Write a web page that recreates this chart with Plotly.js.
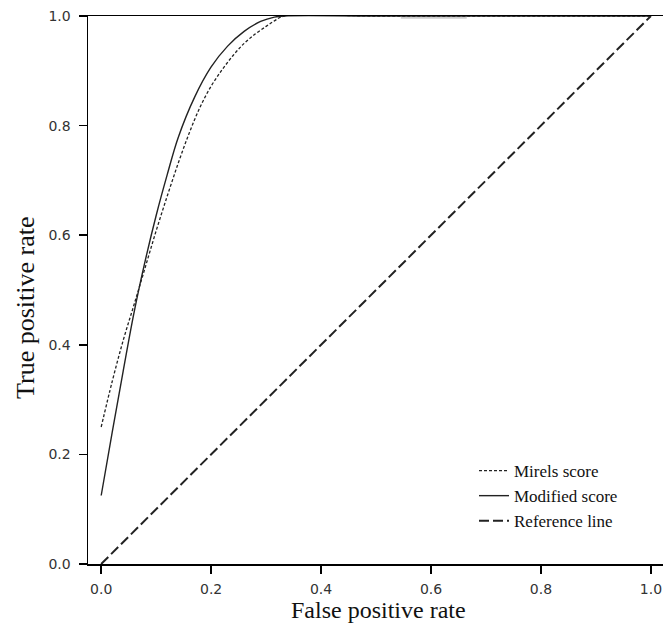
<!DOCTYPE html>
<html>
<head>
<meta charset="utf-8">
<script src="https://cdn.plot.ly/plotly-3.0.1.min.js"></script>
<style>html,body{margin:0;padding:0;background:#fff;}#chart{width:663px;height:629px;}</style>
</head>
<body>
<div id="chart"></div>
<script>
// Mirels score ROC (dotted)
const mirelsFpr = [0, 0.02, 0.04, 0.06, 0.08, 0.10, 0.12, 0.14, 0.16, 0.18, 0.20, 0.22, 0.24, 0.26, 0.28, 0.30, 0.315, 0.333, 0.5, 1.0];
const mirelsTpr = [0.25, 0.333, 0.408, 0.474, 0.541, 0.608, 0.671, 0.731, 0.786, 0.834, 0.872, 0.902, 0.928, 0.95, 0.967, 0.981, 0.991, 1.0, 1.0, 1.0];
// Modified score ROC (solid)
const modFpr = [0, 0.02, 0.04, 0.06, 0.08, 0.10, 0.12, 0.14, 0.17, 0.20, 0.23, 0.26, 0.29, 0.315, 0.333, 0.5, 1.0];
const modTpr = [0.125, 0.24, 0.352, 0.46, 0.553, 0.636, 0.71, 0.778, 0.852, 0.907, 0.945, 0.972, 0.99, 0.998, 1.0, 1.0, 1.0];
// Reference line
const refX = [0, 1];
const refY = [0, 1];
// faint segment near the top
const faintX = [0.545, 0.665];
const faintY = [0.997, 0.997];

const tickVals = [0, 0.2, 0.4, 0.6, 0.8, 1.0];
const tickText = ['0.0', '0.2', '0.4', '0.6', '0.8', '1.0'];
const xTitle = 'False positive rate';
const yTitle = 'True positive rate';

const traces = [
  {x: faintX, y: faintY, mode: 'lines', line: {color: '#cfcfcf', width: 2}, showlegend: false, hoverinfo: 'skip'},
  {x: mirelsFpr, y: mirelsTpr, mode: 'lines', name: 'Mirels score', line: {color: '#222', width: 1.3, dash: '3px,2px', shape: 'spline', smoothing: 1}},
  {x: modFpr, y: modTpr, mode: 'lines', name: 'Modified score', line: {color: '#222', width: 1.4, shape: 'spline', smoothing: 1}},
  {x: refX, y: refY, mode: 'lines', name: 'Reference line', line: {color: '#222', width: 2, dash: '10px,4px'}}
];

const axisFont = {family: 'DejaVu Sans', size: 14, color: '#333'};
const titleFont = {family: 'Liberation Serif', size: 24, color: '#111'};

const layout = {
  width: 663, height: 629,
  margin: {l: 88, r: 0, t: 16, b: 65},
  paper_bgcolor: '#fff', plot_bgcolor: '#fff',
  showlegend: true,
  legend: {xref: 'paper', font: {family: 'Liberation Serif', size: 17, color: '#111'},
           bgcolor: 'rgba(0,0,0,0)', itemwidth: 30, xanchor: 'left', yanchor: 'top'},
  xaxis: {
    range: [-0.024, 1.022], tickvals: tickVals, ticktext: tickText,
    showgrid: false, zeroline: false, showline: true, linecolor: '#000', linewidth: 1.5, mirror: true,
    ticks: 'outside', ticklen: 8, tickcolor: '#000', tickwidth: 1.5, tickfont: axisFont, ticklabelstandoff: 4
  },
  yaxis: {
    range: [0, 1], tickvals: tickVals, ticktext: tickText,
    showgrid: false, zeroline: false, showline: true, linecolor: '#000', linewidth: 1.5,
    ticks: 'outside', ticklen: 8, tickcolor: '#000', tickwidth: 1.5, tickfont: axisFont, ticklabelstandoff: 5
  },
  annotations: [
    {text: xTitle, xref: 'paper', yref: 'paper', x: (378 - 88) / 575, y: -(610 - 564) / 548,
     xanchor: 'center', yanchor: 'middle', showarrow: false, font: titleFont},
    {text: yTitle, xref: 'paper', yref: 'paper', x: -(88 - 25) / 575, y: (564 - 308) / 548,
     xanchor: 'center', yanchor: 'middle', textangle: -90, showarrow: false,
     font: {family: 'Liberation Serif', size: 26, color: '#111'}}
  ]
};
layout.legend.x = (474 - 88) / 575;
layout.legend.y = (564 - 453) / 548;

Plotly.newPlot('chart', traces, layout, {displayModeBar: false, staticPlot: true});
</script>
</body>
</html>
